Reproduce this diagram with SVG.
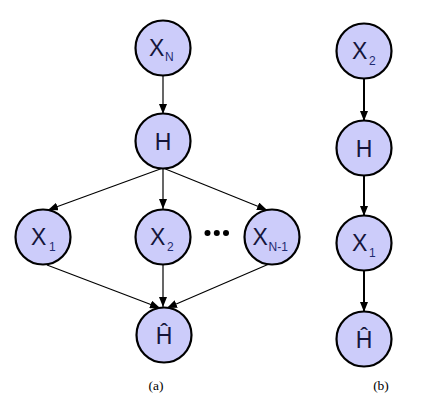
<svg xmlns="http://www.w3.org/2000/svg" width="440" height="413" viewBox="0 0 440 413">
<style>
.n{fill:#ccccfa;stroke:#000;stroke-width:2.2}
.t{font-family:"Liberation Sans",Arial,sans-serif;font-size:23px;fill:#15153a}
.s{font-family:"Liberation Sans",Arial,sans-serif;font-size:12px;fill:#1e2a70}
.e{stroke:#000;stroke-width:1.2;fill:none;marker-end:url(#a)}
.eb{stroke:#000;stroke-width:2;fill:none;marker-end:url(#a)}
.lab{font-family:"Liberation Serif","Times New Roman",serif;font-size:13.5px;fill:#000}
</style>
<defs>
<marker id="a" markerUnits="userSpaceOnUse" markerWidth="10" markerHeight="8" refX="10" refY="4" orient="auto">
<path d="M0,0 L10,4 L0,8 Z" fill="#000"/>
</marker>
</defs>
<rect width="440" height="413" fill="#fff"/>
<g id="connectors">
<line class="e" x1="163" y1="75.5" x2="163" y2="114"/>
<line class="e" x1="163" y1="168" x2="48" y2="210"/>
<line class="e" x1="163" y1="168" x2="163" y2="209"/>
<line class="e" x1="163" y1="168" x2="267" y2="210"/>
<line class="e" x1="47" y1="265" x2="160" y2="308"/>
<line class="e" x1="163" y1="264.5" x2="163" y2="307"/>
<line class="e" x1="269" y1="264" x2="167" y2="308"/>
<line class="eb" x1="364" y1="79" x2="364" y2="121"/>
<line class="eb" x1="364" y1="176" x2="364" y2="216"/>
<line class="eb" x1="364" y1="271" x2="364" y2="312"/>
</g>
<g id="a_XN">
<circle class="n" cx="163" cy="48" r="27.5"/>
<text class="t" x="149" y="56">X</text><text class="s" x="165" y="61">N</text>
</g>
<g id="a_H">
<circle class="n" cx="163" cy="141" r="27.5"/>
<text class="t" x="163" y="149.5" text-anchor="middle">H</text>
</g>
<g id="a_X1">
<circle class="n" cx="43" cy="237" r="27.5"/>
<text class="t" x="31" y="245">X</text><text class="s" x="49" y="251">1</text>
</g>
<g id="a_X2">
<circle class="n" cx="163" cy="237" r="27.5"/>
<text class="t" x="150" y="245">X</text><text class="s" x="167" y="251">2</text>
</g>
<g id="dots">
<circle cx="207.5" cy="233" r="3" fill="#000"/>
<circle cx="216.8" cy="233" r="3" fill="#000"/>
<circle cx="226" cy="233" r="3" fill="#000"/>
</g>
<g id="a_XN1">
<circle class="n" cx="272" cy="237" r="27.5"/>
<text class="t" x="252.5" y="245">X</text><text class="s" x="268.5" y="251">N-1</text>
</g>
<g id="a_Hhat">
<circle class="n" cx="164" cy="335" r="27.5"/>
<text class="t" x="164" y="344" text-anchor="middle">Ĥ</text>
</g>
<g id="b_X2">
<circle class="n" cx="364" cy="51" r="27.5"/>
<text class="t" x="352" y="59">X</text><text class="s" x="369" y="65">2</text>
</g>
<g id="b_H">
<circle class="n" cx="364" cy="148" r="27.5"/>
<text class="t" x="364" y="156.5" text-anchor="middle">H</text>
</g>
<g id="b_X1">
<circle class="n" cx="364" cy="243" r="27.5"/>
<text class="t" x="352" y="251">X</text><text class="s" x="369" y="257">1</text>
</g>
<g id="b_Hhat">
<circle class="n" cx="364" cy="339" r="27.5"/>
<text class="t" x="364" y="348" text-anchor="middle">Ĥ</text>
</g>
<text class="lab" x="156" y="390" text-anchor="middle">(a)</text>
<text class="lab" x="381" y="390" text-anchor="middle">(b)</text>
</svg>
